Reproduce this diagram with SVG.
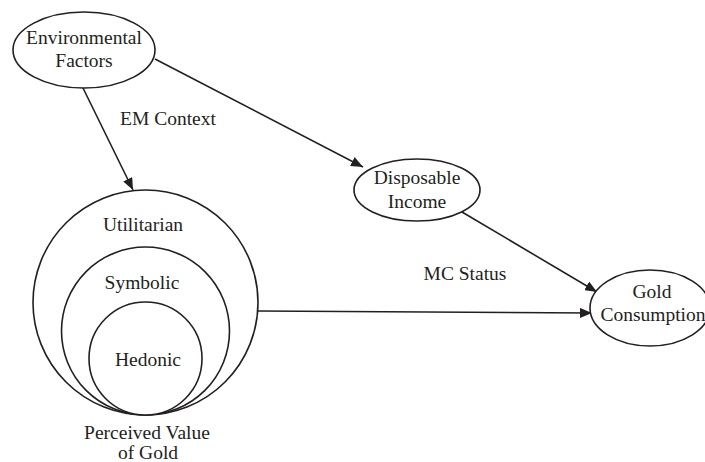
<svg xmlns="http://www.w3.org/2000/svg" width="705" height="462" viewBox="0 0 705 462">
<defs>
<marker id="ah" markerWidth="12" markerHeight="10" refX="12" refY="5" orient="auto" markerUnits="userSpaceOnUse">
<path d="M0,0 L12,5 L0,10 Z" fill="#231f20"/>
</marker>
<style>
text{font-family:"Liberation Serif","Times New Roman",serif;font-size:19.5px;fill:#231f20;text-anchor:middle}
.n{fill:#fff;stroke:#231f20;stroke-width:1.6}
.c{fill:none;stroke:#231f20;stroke-width:1.6;marker-end:url(#ah)}
</style>
</defs>
<rect width="705" height="462" fill="#fff"/>
<g id="connectors">
<line class="c" x1="83" y1="88" x2="133" y2="190"/>
<line class="c" x1="155" y1="59" x2="363" y2="167"/>
<line class="c" x1="462" y1="212" x2="597" y2="292"/>
<line class="c" x1="258" y1="311" x2="592" y2="313"/>
<text x="168" y="125">EM Context</text>
<text x="465" y="280">MC Status</text>
</g>
<g id="environmental">
<ellipse class="n" cx="84" cy="50" rx="71" ry="38"/>
<text x="84" y="44">Environmental</text>
<text x="84" y="67">Factors</text>
</g>
<g id="disposable">
<ellipse class="n" cx="417" cy="190" rx="63" ry="31"/>
<text x="417" y="184">Disposable</text>
<text x="417" y="208">Income</text>
</g>
<g id="gold">
<ellipse class="n" cx="650" cy="308" rx="60" ry="38"/>
<text x="652" y="298">Gold</text>
<text x="653" y="321">Consumption</text>
</g>
<g id="perceived">
<circle class="n" cx="145.5" cy="302.5" r="112.5"/>
<circle class="n" cx="145.5" cy="331" r="84"/>
<circle class="n" cx="145.5" cy="358.5" r="56.5"/>
<text x="143" y="231">Utilitarian</text>
<text x="142" y="289">Symbolic</text>
<text x="148" y="366">Hedonic</text>
<text x="147" y="439">Perceived Value</text>
<text x="148" y="459">of Gold</text>
</g>
</svg>
